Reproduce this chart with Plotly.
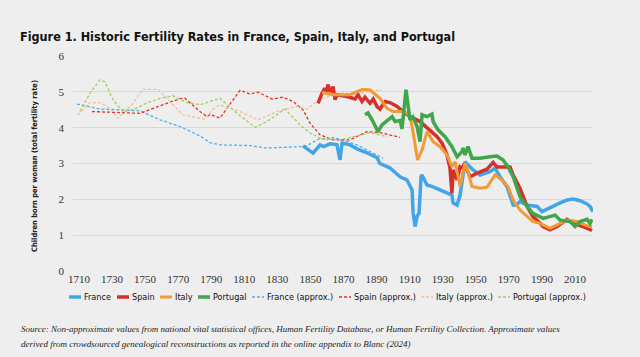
import plotly.graph_objects as go

# ---------------- data ----------------
france_years = [1845.5, 1851.6, 1855.8, 1858, 1861.8, 1866, 1867.9, 1869.1, 1874, 1878.2, 1884.2, 1890.3,
                1892, 1898, 1904.2, 1908.4, 1911.5, 1912.1, 1913.3, 1914.5, 1915.7, 1916.9, 1917.5, 1920.5,
                1924.2, 1928.4, 1932.6, 1935.6, 1936.3, 1938.7, 1940.5, 1943.5, 1944.5, 1948.4, 1952.6,
                1958.6, 1961.7, 1964.7, 1968.9, 1970.7, 1972.6, 1974.5, 1976.8, 1981, 1987.1, 1990.1,
                1993.1, 1996.8, 2001, 2005.2, 2008.9, 2013.1, 2017.3, 2019.1, 2020.9]
france_values = [3.49, 3.29, 3.52, 3.47, 3.55, 3.53, 3.10, 3.57, 3.52, 3.41, 3.30, 3.16,
                 3.00, 2.88, 2.63, 2.54, 2.26, 1.62, 1.24, 1.52, 1.62, 2.63, 2.68, 2.40,
                 2.35, 2.26, 2.18, 2.12, 1.90, 1.84, 2.12, 3.05, 3.00, 2.82, 2.68,
                 2.77, 2.87, 2.63, 2.35, 2.07, 1.84, 1.84, 1.94, 1.84, 1.80, 1.66,
                 1.73, 1.82, 1.90, 1.98, 2.01, 1.96, 1.87, 1.80, 1.66]

spain_years = [1854.6, 1857.0, 1858.8, 1859.5, 1860.6, 1862, 1863.1, 1863.7, 1864.9, 1866.1, 1872.1, 1877.0,
               1878.8, 1881.2, 1883, 1886.0, 1888, 1890.3, 1892.1, 1895.1, 1898.1, 1902.4, 1906.0, 1910.2,
               1916.3, 1922.3, 1926.6, 1929.6, 1932.6, 1934.4, 1935.6, 1936.3, 1938.7, 1940.5, 1942.3,
               1943, 1945.3, 1946.5, 1950.8, 1956.8, 1960.5, 1962.9, 1966.5, 1970.7, 1972.6, 1976.8,
               1981.0, 1984.6, 1988.9, 1990.7, 1994.9, 1999.2, 2005.2, 2008.9, 2014.9, 2020.3]
spain_values = [4.68, 4.96, 5.10, 4.95, 5.20, 5.00, 5.06, 5.15, 4.78, 4.92, 4.87, 4.80,
                4.92, 4.73, 4.85, 4.68, 4.80, 4.59, 4.52, 4.73, 4.70, 4.59, 4.45, 4.31,
                4.17, 3.94, 3.75, 3.57, 3.24, 2.87, 2.17, 2.82, 2.54, 2.91, 2.87,
                3.00, 2.73, 2.63, 2.73, 2.84, 3.03, 2.90, 2.90, 2.90, 2.68, 2.30,
                1.80, 1.52, 1.33, 1.24, 1.15, 1.24, 1.44, 1.33, 1.24, 1.13]

italy_years = [1857.0, 1863.7, 1873.9, 1878.2, 1881.8, 1886, 1892.1, 1896.3, 1900.0, 1906.0, 1908.4, 1910.2,
               1911.5, 1914.8, 1917.5, 1920.5, 1924.2, 1928.4, 1932.6, 1935.6, 1937.5, 1940.5, 1943.5,
               1945.3, 1947.7, 1952.6, 1956.8, 1961.7, 1965.9, 1969.5, 1972.6, 1976.8, 1981.0, 1984.6,
               1988.9, 1994.9, 2001.0, 2005.2, 2011.3, 2017.3, 2020.3]
italy_values = [4.98, 4.92, 4.92, 5.01, 5.07, 5.05, 4.82, 4.54, 4.45, 4.45, 4.41, 4.31,
                4.03, 3.10, 3.38, 3.89, 3.61, 3.47, 3.24, 2.91, 3.05, 2.36, 3.01,
                2.77, 2.36, 2.31, 2.34, 2.68, 2.54, 2.36, 1.98, 1.70, 1.52, 1.38,
                1.33, 1.19, 1.33, 1.42, 1.38, 1.26, 1.24]

portugal_years = [1883.0, 1884.8, 1887.3, 1890.9, 1893.3, 1896.9, 1899.4, 1901.2, 1904.2, 1905.4, 1907.8,
                  1910.2, 1912, 1914.5, 1916.3, 1917.5, 1920.5, 1923.5, 1924.2, 1927.2, 1931.4, 1935.6,
                  1938.7, 1941.7, 1942.3, 1943.5, 1945.3, 1947.7, 1952.6, 1958.6, 1962.9, 1966.5, 1969.5,
                  1972.6, 1976.8, 1981.0, 1984.6, 1990.7, 1994.9, 1998.0, 2001.0, 2007.0, 2010.1, 2013.1,
                  2017.3, 2019.1, 2020.3]
portugal_values = [4.36, 4.41, 4.22, 3.89, 4.08, 4.22, 4.31, 4.17, 4.20, 3.97, 5.06,
                   4.22, 4.30, 4.03, 3.61, 4.36, 4.31, 4.38, 4.17, 3.94, 3.75, 3.47,
                   3.19, 3.33, 3.43, 3.24, 3.47, 3.15, 3.15, 3.19, 3.21, 3.10, 2.91,
                   2.63, 2.07, 1.80, 1.61, 1.47, 1.52, 1.56, 1.42, 1.38, 1.24, 1.38,
                   1.44, 1.33, 1.44]

france_approx_years = [1708.8, 1722.7, 1734.8, 1746.9, 1759, 1771.1, 1783.2, 1789.3, 1795.3, 1813.4, 1823.7,
                       1843.7, 1847.9, 1855.8, 1860, 1863.7, 1872.1, 1878.2, 1884.2, 1887.9, 1893.9]
france_approx_values = [4.66, 4.52, 4.50, 4.47, 4.22, 4.03, 3.77, 3.58, 3.52, 3.50, 3.43,
                        3.47, 3.50, 3.70, 3.66, 3.73, 3.61, 3.52, 3.38, 3.30, 3.15]

spain_approx_years = [1717.9, 1734.8, 1746.9, 1759, 1771.1, 1774.1, 1783.2, 1787.4, 1789.3, 1795.3, 1807.4,
                      1813.4, 1818.3, 1826.8, 1833.4, 1839.5, 1845.5, 1849.7, 1855.8, 1863.7, 1873.9, 1884.2,
                      1892.1, 1904.2]
spain_approx_values = [4.45, 4.42, 4.40, 4.61, 4.81, 4.82, 4.45, 4.31, 4.37, 4.27, 5.04,
                       4.94, 4.99, 4.80, 4.85, 4.73, 4.50, 4.13, 3.80, 3.66, 3.66, 3.89,
                       3.86, 3.73]

italy_approx_years = [1709.4, 1716.7, 1722.7, 1728.8, 1733.6, 1742.7, 1748.7, 1757.8, 1766.9, 1772.9, 1783.2,
                      1786.2, 1791.1, 1795.3, 1807.4, 1818.3, 1829.8, 1841.9, 1847.9, 1855.8, 1867.9, 1878,
                      1893.3]
italy_approx_values = [4.36, 4.70, 4.70, 4.54, 4.26, 4.68, 5.07, 5.07, 4.64, 4.36, 4.26,
                       4.24, 4.51, 4.64, 4.45, 4.22, 4.45, 4.60, 4.52, 4.80, 4.97, 4.95,
                       5.06]

portugal_approx_years = [1710.6, 1716.7, 1722.7, 1725.7, 1730.6, 1736.6, 1742.7, 1751.1, 1759, 1766.9, 1775.3,
                         1783.2, 1795.3, 1805.6, 1816.5, 1823.7, 1834.6, 1843.7, 1849.7, 1855.8, 1867.9, 1880,
                         1886, 1896.3]
portugal_approx_values = [4.45, 4.96, 5.33, 5.28, 4.78, 4.45, 4.50, 4.69, 4.82, 4.89, 4.70,
                          4.64, 4.82, 4.40, 4.01, 4.17, 4.52, 4.08, 3.85, 3.71, 3.66, 3.80,
                          3.86, 3.75]

x_tick_labels = [1710, 1730, 1750, 1770, 1790, 1810, 1830, 1850, 1870, 1890, 1910, 1930, 1950, 1970, 1990, 2010]
y_tick_labels = [0, 1, 2, 3, 4, 5, 6]
series_names = ["France", "Spain", "Italy", "Portugal",
                "France (approx.)", "Spain (approx.)", "Italy (approx.)", "Portugal (approx.)"]

# ---------------- styling ----------------
BG = "#EEEEEE"
SERIF = "Liberation Serif, Times New Roman, serif"
COND = "Liberation Sans Narrow, DejaVu Sans Condensed, Roboto Condensed, Arial Narrow, sans-serif"

# plot area in pixels: left 73, right 593, top 56, bottom 271
L, R, T, B = 73, 593, 56, 271
W, H = R - L, B - T


def px_x(p):
    return (p - L) / W


def px_y(p):
    return (B - p) / H


data = [
    (france_years, france_values, "#41A6E8", 3.5, "solid"),
    (spain_years, spain_values, "#D7302B", 3.5, "solid"),
    (italy_years, italy_values, "#F29A34", 3.0, "solid"),
    (portugal_years, portugal_values, "#3FA64C", 3.5, "solid"),
    (france_approx_years, france_approx_values, "#4DB0F0", 1.3, "3px,2px"),
    (spain_approx_years, spain_approx_values, "#E6302A", 1.3, "3px,2px"),
    (italy_approx_years, italy_approx_values, "#F6BE95", 1.3, "3px,2px"),
    (portugal_approx_years, portugal_approx_values, "#A2CE5C", 1.3, "3px,2px"),
]

fig = go.Figure()
order = [4, 5, 6, 7, 0, 1, 2, 3]  # approx lines underneath
for i in order:
    xs, ys, color, w, dash = data[i]
    fig.add_trace(go.Scatter(
        x=xs, y=ys, mode="lines", name=series_names[i],
        line=dict(color=color, width=w, dash=dash),
        hoverinfo="skip", showlegend=False,
    ))

# manual one-row legend (symbol start px, text start px)
legend_pos = [(69, 83), (117, 131), (160, 174), (198, 212),
              (252, 266), (339, 353), (421, 435), (498, 512)]
LEG_Y = 297
SYM_LEN = 12
shapes = []
annotations = []
for i, (sx, tx) in enumerate(legend_pos):
    _, _, color, w, dash = data[i]
    shapes.append(dict(type="line", xref="paper", yref="paper",
                       x0=px_x(sx), x1=px_x(sx + SYM_LEN), y0=px_y(LEG_Y), y1=px_y(LEG_Y),
                       line=dict(color=color, width=w, dash=dash)))
    annotations.append(dict(text=series_names[i], xref="paper", yref="paper",
                            x=px_x(tx - 1), y=px_y(LEG_Y), xanchor="left", yanchor="middle",
                            showarrow=False, font=dict(family=COND, size=9, color="#111111")))

annotations += [
    dict(text="<b>Figure 1. Historic Fertility Rates in France, Spain, Italy, and Portugal</b>",
         xref="paper", yref="paper", x=px_x(18), y=px_y(36),
         xanchor="left", yanchor="middle", showarrow=False,
         font=dict(family=COND, size=12.5, color="#111111")),
    dict(text="<b>Children born per woman (total fertility rate)</b>",
         xref="paper", yref="paper", x=px_x(34), y=px_y(166),
         xanchor="center", yanchor="middle", textangle=-90, showarrow=False,
         font=dict(family=COND, size=7.5, color="#222222")),
    dict(text="<i>Source: Non-approximate values from national vital statistical offices, Human Fertility Database, or Human Fertility Collection. Approximate values</i>",
         xref="paper", yref="paper", x=px_x(19), y=px_y(329),
         xanchor="left", yanchor="middle", align="left", showarrow=False,
         font=dict(family=SERIF, size=9, color="#222222")),
    dict(text="<i>derived from crowdsourced genealogical reconstructions as reported in the online appendix to Blanc (2024)</i>",
         xref="paper", yref="paper", x=px_x(19), y=px_y(343.5),
         xanchor="left", yanchor="middle", align="left", showarrow=False,
         font=dict(family=SERIF, size=9, color="#222222")),
]

fig.update_layout(
    width=640, height=357,
    margin=dict(l=L, r=640 - R, t=T, b=357 - B, autoexpand=False),
    paper_bgcolor=BG, plot_bgcolor=BG,
    showlegend=False,
    xaxis=dict(
        range=[1706.4, 2020.9], tickmode="array", tickvals=x_tick_labels,
        ticktext=[str(v) for v in x_tick_labels],
        showgrid=False, zeroline=False, showline=False, ticks="",
        tickfont=dict(family=SERIF, size=11, color="#333333"),
    ),
    yaxis=dict(
        range=[0, 6], tickmode="array", tickvals=y_tick_labels,
        ticktext=[str(v) for v in y_tick_labels],
        showgrid=True, gridcolor="#D8D8D8", gridwidth=1,
        zeroline=False, showline=False, ticks="",
        tickfont=dict(family=SERIF, size=11, color="#333333"),
        ticklabelstandoff=8,
    ),
    shapes=shapes,
    annotations=annotations,
)

fig.write_html("out.html", config={"displayModeBar": False},
               post_script="document.body.style.margin='0';document.body.style.background='#EEEEEE';")
